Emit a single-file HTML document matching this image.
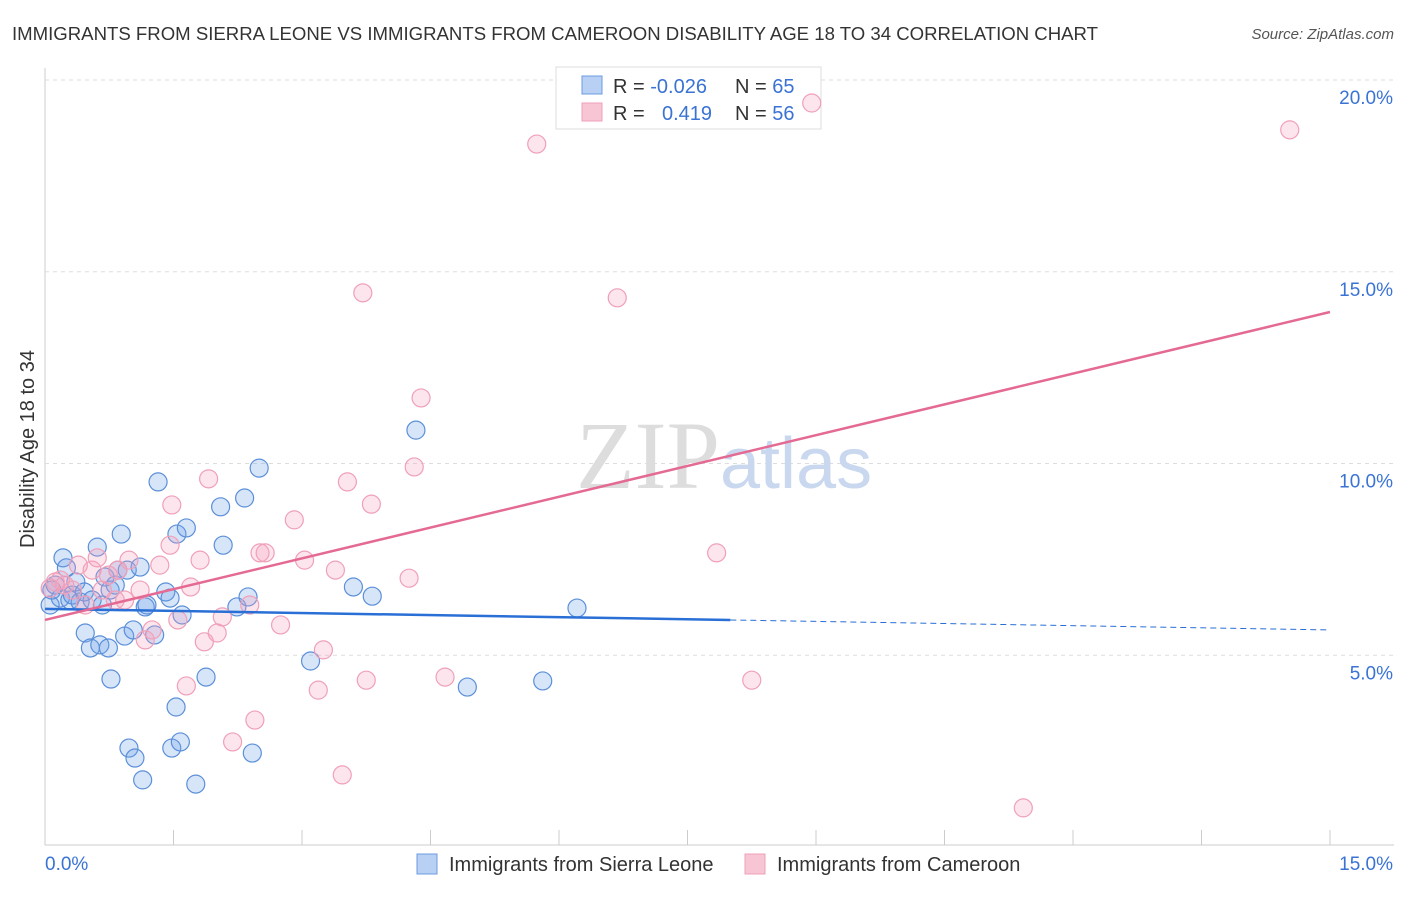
<!DOCTYPE html>
<html><head><meta charset="utf-8"><style>
body{margin:0;background:#fff;font-family:"Liberation Sans",sans-serif;}
</style></head><body>
<svg id="c" width="1406" height="892" xmlns="http://www.w3.org/2000/svg">
<text x="12" y="40" font-size="18.6" fill="#333" textLength="1086" lengthAdjust="spacingAndGlyphs">IMMIGRANTS FROM SIERRA LEONE VS IMMIGRANTS FROM CAMEROON DISABILITY AGE 18 TO 34 CORRELATION CHART</text>
<text x="1394" y="39" font-size="15" fill="#555" font-style="italic" text-anchor="end">Source: ZipAtlas.com</text>
<text x="40" y="455" font-size="20" fill="#333" transform="rotate(-90 34 455)" text-anchor="middle">Disability Age 18 to 34</text>
<g id="grid"></g>
<text x="720" y="488" font-size="96" fill="#ddd" text-anchor="end" font-family="Liberation Serif">ZIP</text>
<text x="720" y="488" font-size="72" fill="#c9d8ef">atlas</text>
<g>
<rect x="556" y="67" width="265" height="62" fill="#fff" stroke="#ddd"/>
<rect x="582" y="76" width="20" height="18" fill="#b8d0f4" stroke="#6b9be0"/>
<rect x="582" y="103" width="20" height="18" fill="#f8c5d4" stroke="#f0a0b8"/>
<text x="613" y="93" font-size="20" fill="#333">R = <tspan fill="#3a73d4">-0.026</tspan><tspan x="735">N = </tspan><tspan fill="#3a73d4">65</tspan></text>
<text x="613" y="120" font-size="20" fill="#333">R = <tspan x="662" fill="#3a73d4">0.419</tspan><tspan x="735">N = </tspan><tspan fill="#3a73d4">56</tspan></text>
</g>
<g id="pts"></g>
<g id="lines"></g>
<g>
<rect x="417" y="854" width="20" height="20" fill="#b8d0f4" stroke="#6b9be0"/>
<text x="449" y="871" font-size="20" fill="#333">Immigrants from Sierra Leone</text>
<rect x="745" y="854" width="20" height="20" fill="#f8c5d4" stroke="#f0a0b8"/>
<text x="777" y="871" font-size="20" fill="#333">Immigrants from Cameroon</text>
</g>
</svg>
<script>
const yTicks=[5,10,15,20];
const yTickLabels=["5.0%","10.0%","15.0%","20.0%"];
const xTickLabels=["0.0%","15.0%"];
const blueX=[0.06,0.08,0.12,0.18,0.21,0.25,0.29,0.32,0.36,0.41,0.46,0.47,0.53,0.55,0.61,0.64,0.67,0.70,0.74,0.76,0.77,0.82,0.85,0.89,0.93,0.96,0.98,1.03,1.05,1.11,1.14,1.17,1.19,1.28,1.32,1.41,1.46,1.48,1.53,1.54,1.58,1.60,1.65,1.76,1.88,2.05,2.08,2.24,2.33,2.37,2.42,2.50,3.10,3.60,3.82,4.33,4.93,5.81,6.21];
const blueY=[6.31,6.70,6.83,6.49,7.54,7.28,6.44,6.57,6.91,6.39,6.65,5.58,5.19,6.44,7.82,5.27,6.31,7.04,5.19,6.70,4.38,6.83,7.22,8.16,5.50,7.22,2.58,5.66,2.32,7.30,1.75,6.26,6.31,5.53,9.52,6.65,6.49,2.58,3.65,8.16,2.74,6.05,8.32,1.64,4.43,8.87,7.87,6.26,9.10,6.52,2.45,9.88,4.85,6.78,6.54,10.87,4.17,4.33,6.23];
const pinkX=[0.06,0.12,0.18,0.23,0.32,0.39,0.47,0.55,0.61,0.67,0.74,0.82,0.85,0.93,0.98,1.11,1.17,1.25,1.34,1.46,1.48,1.55,1.65,1.70,1.81,1.86,1.91,2.01,2.07,2.19,2.39,2.45,2.51,2.57,2.75,2.91,3.03,3.19,3.25,3.39,3.47,3.53,3.71,3.75,3.81,4.25,4.31,4.39,4.67,5.74,6.68,7.84,8.25,8.95,11.42,14.53];
const pinkY=[6.75,6.91,6.96,6.83,6.70,7.35,6.31,7.22,7.54,6.70,7.09,6.44,7.22,6.44,7.48,6.70,5.40,5.66,7.35,7.87,8.92,5.92,4.20,6.78,7.48,5.35,9.60,5.58,6.00,2.74,6.31,3.31,7.67,7.67,5.79,8.53,7.48,4.09,5.14,7.22,1.88,9.52,14.45,4.35,8.94,7.01,9.91,11.71,4.43,18.33,14.32,7.67,4.35,19.40,1.02,18.70];
const blueTrend=[6.21,5.92,5.66]; // at x=0, 8, 15
const pinkTrend=[5.92,13.95]; // at x=0, 15
const NS="http://www.w3.org/2000/svg";
const X=v=>45+v*(1285/15), Y=v=>847-v*38.35;
function mk(t,a,p){const e=document.createElementNS(NS,t);for(const k in a)e.setAttribute(k,a[k]);p.appendChild(e);return e;}
const g=document.getElementById('grid');
mk('line',{x1:45,y1:68,x2:45,y2:845,stroke:'#ccc'},g);
mk('line',{x1:45,y1:845,x2:1394,y2:845,stroke:'#ccc'},g);
for(let i=0;i<=10;i++){mk('line',{x1:X(i*1.5),y1:830,x2:X(i*1.5),y2:845,stroke:'#ccc'},g);}
yTicks.forEach((t,i)=>{const l=mk('line',{x1:45,y1:Y(t),x2:1394,y2:Y(t),stroke:'#ddd','stroke-dasharray':'4 4'},g);


const tx=mk('text',{x:1393,y:Y(t)+24,'font-size':19,fill:'#3a73d4','text-anchor':'end'},g);tx.textContent=yTickLabels[i];

});
const x0=mk('text',{x:45,y:870,'font-size':19,fill:'#3a73d4'},g);x0.textContent=xTickLabels[0];


const x1=mk('text',{x:1393,y:870,'font-size':19,fill:'#3a73d4','text-anchor':'end'},g);x1.textContent=xTickLabels[1];


const p=document.getElementById('pts');
blueX.forEach((x,i)=>{const c=mk('circle',{cx:X(x),cy:Y(blueY[i]),r:9,fill:'rgba(110,160,235,0.28)',stroke:'#5b8fd9','stroke-width':1.2},p);

});
pinkX.forEach((x,i)=>{const c=mk('circle',{cx:X(x),cy:Y(pinkY[i]),r:9,fill:'rgba(245,160,190,0.28)',stroke:'#f0a0b8','stroke-width':1.2},p);

});
const L=document.getElementById('lines');
const b1=mk('line',{x1:X(0),y1:Y(blueTrend[0]),x2:X(8),y2:Y(blueTrend[1]),stroke:'#2a6fd6','stroke-width':2.5},L);


const b2=mk('line',{x1:X(8),y1:Y(blueTrend[1]),x2:X(15),y2:Y(blueTrend[2]),stroke:'#2a6fd6','stroke-width':1,'stroke-dasharray':'6 4'},L);


const pl=mk('line',{x1:X(0),y1:Y(pinkTrend[0]),x2:X(15),y2:Y(pinkTrend[1]),stroke:'#e46a94','stroke-width':2.5},L);


</script>
</body></html>
